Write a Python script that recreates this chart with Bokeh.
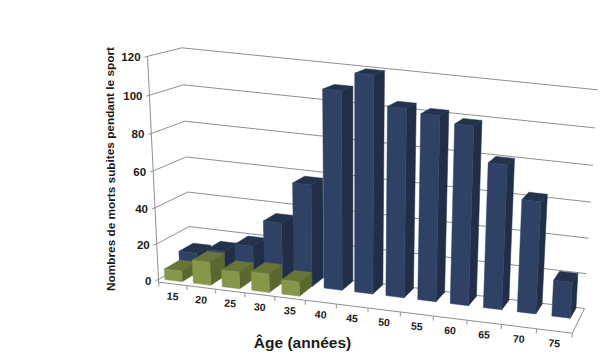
import numpy as np
from bokeh.plotting import figure
from bokeh.models import ColumnDataSource
from bokeh.embed import file_html
from bokeh.resources import INLINE

ages = ["15", "20", "25", "30", "35", "40", "45", "50", "55", "60", "65", "70", "75"]
blue_values = [11, 14, 19, 34, 57, 109, 119, 103.5, 101.5, 98, 79.5, 62, 20]
green_values = [6, 13, 9.5, 10.5, 8]
y_ticks = [0, 20, 40, 60, 80, 100, 120]
y_title = "Nombres de morts subites pendant le sport"
x_title = "Âge (années)"

BLUE = ("#2f4265", "#212e48", "#25324e")
GREEN = ("#86974a", "#5a6830", "#677638")
GRID = "#8f8f8f"
ZMAX = 120.0

# camera: floor corners (front-left, front-right, back-right, back-left),
# vanishing point of the vertical, lift of the full height, widening of the slots
FLOOR = [(158, 279), (572, 330), (584, 308), (190, 260)]
VP = np.array([353.0, 4243.0])
LIFT = -0.0533
WARP = 0.9
HALF_BLUE = 0.0225
HALF_GREEN = 0.0215


def homography(c):
    src = [(0, 0), (1, 0), (1, 1), (0, 1)]
    A, b = [], []
    for (u, v), (x, y) in zip(src, c):
        A.append([u, v, 1, 0, 0, 0, -u * x, -v * x]); b.append(x)
        A.append([0, 0, 0, u, v, 1, -u * y, -v * y]); b.append(y)
    return np.append(np.linalg.solve(np.array(A, float), np.array(b, float)), 1).reshape(3, 3)


H0 = homography(FLOOR)


def warp(u):
    return WARP * u / (1 + (WARP - 1) * u)


def proj(u, d, z):
    r = H0 @ np.array([u, d, 1.0])
    k = LIFT * (1 + 0.015 * u) * z / ZMAX
    w = r[2] + k
    return ((r[0] + k * VP[0]) / w, (r[1] + k * VP[1]) / w)


p = figure(width=605, height=353, x_range=(0, 605), y_range=(353, 0),
           toolbar_location=None, output_backend="svg", min_border=0)
p.axis.visible = False
p.grid.visible = False
p.outline_line_color = None
p.background_fill_color = "white"


def seg(a, b, width=1.0, color=GRID):
    p.line([a[0], b[0]], [a[1], b[1]], line_color=color, line_width=width)


# walls
for t in y_ticks:
    seg(proj(0, 0, t), proj(0, 1, t))
    seg(proj(0, 1, t), proj(1, 1, t))
    a = proj(0, 0, t)
    seg((a[0] - 3, a[1] + 1), a)
seg(proj(0, 0, 120), proj(0, 0, -1.5))
seg(proj(0, 0, -1.5), proj(1, 0, -1.5))
seg(proj(1, 0, -1.5), proj(1, 1, 0))
n = len(ages)
for i in range(n + 1):
    ut = warp(i / n)
    seg(proj(ut, 0, -1.5), proj(ut, 0, -4))


def bar(i, val, d0, d1, cols, half):
    c = warp((i + 0.5) / n)
    u0, u1 = c - half, c + half
    faces = [
        ([(u1, d0, 0), (u1, d1, 0), (u1, d1, val), (u1, d0, val)], cols[1]),
        ([(u0, d0, val), (u1, d0, val), (u1, d1, val), (u0, d1, val)], cols[2]),
        ([(u0, d0, 0), (u1, d0, 0), (u1, d0, val), (u0, d0, val)], cols[0]),
    ]
    xs, ys, cs = [], [], []
    for pts, col in faces:
        q = [proj(*t) for t in pts]
        xs.append([a for a, _ in q]); ys.append([b for _, b in q]); cs.append(col)
    src = ColumnDataSource(dict(xs=xs, ys=ys, c=cs))
    p.patches("xs", "ys", source=src, fill_color="c", line_color="c", line_width=0.5)


for i, v in enumerate(blue_values):
    bar(i, v, 0.5, 0.96, BLUE, HALF_BLUE)
for i, v in enumerate(green_values):
    bar(i, v, 0.03, 0.5, GREEN, HALF_GREEN)

# tick labels
xl = [proj(warp((i + 0.5) / n), 0, -1.5) for i in range(n)]
p.text([a for a, _ in xl], [b + 12 for _, b in xl], text=ages, text_font_size="10.5px",
       text_font_style="bold", text_font={"value": "Liberation Sans"}, text_align="center",
       text_baseline="middle", text_color="#1a1a1a", angle=-0.07)
yl = [proj(0, 0, t) for t in y_ticks]
p.text([a - 7 for a, _ in yl], [b + 1 for _, b in yl], text=[str(t) for t in y_ticks],
       text_font_size="11.5px", text_font_style="bold", text_font={"value": "Liberation Sans"},
       text_align="right", text_baseline="middle", text_color="#1a1a1a")
p.text([110], [168.5], text=[y_title], text_font_size="11.8px", text_font_style="bold",
       text_font={"value": "Liberation Sans"}, text_align="center", text_baseline="middle",
       text_color="#1a1a1a", angle=1.5708)
p.text([302], [342], text=[x_title], text_font_size="15.5px", text_font_style="bold",
       text_font={"value": "Liberation Sans"}, text_align="center", text_baseline="middle",
       text_color="#1a1a1a")

open("out.html", "w").write(file_html(p, INLINE))
